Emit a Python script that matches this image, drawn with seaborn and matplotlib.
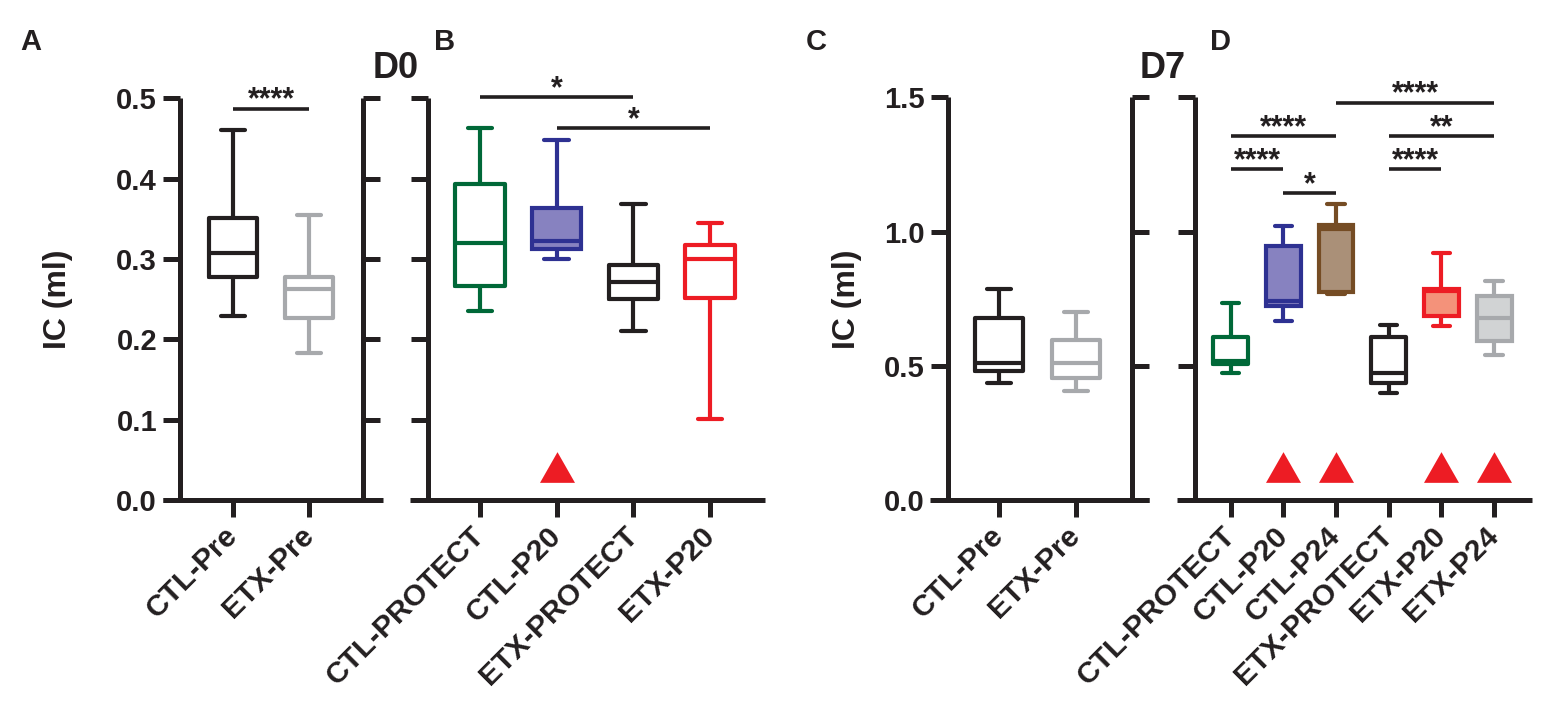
import numpy as np
import pandas as pd
import matplotlib
matplotlib.use("Agg")
import matplotlib.pyplot as plt
import seaborn as sns

# ---------------- data (five-number summaries) ----------------
a_groups = ["CTL-Pre", "ETX-Pre"]
a_lo  = [0.229, 0.183]
a_q1  = [0.278, 0.226]
a_med = [0.308, 0.263]
a_q3  = [0.351, 0.278]
a_hi  = [0.460, 0.355]

b_groups = ["CTL-PROTECT", "CTL-P20", "ETX-PROTECT", "ETX-P20"]
b_lo  = [0.235, 0.300, 0.210, 0.101]
b_q1  = [0.266, 0.313, 0.250, 0.251]
b_med = [0.320, 0.322, 0.271, 0.300]
b_q3  = [0.393, 0.364, 0.293, 0.318]
b_hi  = [0.463, 0.448, 0.369, 0.345]

c_groups = ["CTL-Pre", "ETX-Pre"]
c_lo  = [0.437, 0.407]
c_q1  = [0.482, 0.453]
c_med = [0.509, 0.512]
c_q3  = [0.677, 0.596]
c_hi  = [0.786, 0.702]

d_groups = ["CTL-PROTECT", "CTL-P20", "CTL-P24", "ETX-PROTECT", "ETX-P20", "ETX-P24"]
d_lo  = [0.472, 0.668, 0.767, 0.400, 0.648, 0.540]
d_q1  = [0.505, 0.723, 0.776, 0.437, 0.686, 0.594]
d_med = [0.519, 0.743, 1.010, 0.472, 0.780, 0.677]
d_q3  = [0.606, 0.946, 1.025, 0.606, 0.786, 0.760]
d_hi  = [0.733, 1.022, 1.103, 0.652, 0.921, 0.816]

# significance annotations: (group1, group2, height, label)
a_sig = [("CTL-Pre", "ETX-Pre", 0.487, "****")]
b_sig = [("CTL-PROTECT", "ETX-PROTECT", 0.501, "*"),
         ("CTL-P20", "ETX-P20", 0.463, "*")]
d_sig = [("CTL-P24", "ETX-P24", 1.480, "****"),
         ("CTL-PROTECT", "CTL-P24", 1.356, "****"),
         ("ETX-PROTECT", "ETX-P24", 1.356, "**"),
         ("CTL-PROTECT", "CTL-P20", 1.233, "****"),
         ("ETX-PROTECT", "ETX-P20", 1.233, "****"),
         ("CTL-P20", "CTL-P24", 1.143, "*")]

# groups marked with a red triangle
b_tri = ["CTL-P20"]
d_tri = ["CTL-P20", "CTL-P24", "ETX-P20", "ETX-P24"]

# ---------------- styles ----------------
INK = "#231F20"
GREEN = "#006838"
BLUE, BLUE_F = "#2E3192", "#8782C0"
BROWN, BROWN_F = "#754C24", "#AA9078"
RED, RED_F = "#ED1C24", "#F4927A"
GRAY, GRAY_F = "#A7A9AC", "#D1D3D4"

a_edge, a_face = [INK, GRAY], [None, None]
b_edge, b_face = [GREEN, BLUE, INK, RED], [None, BLUE_F, None, None]
c_edge, c_face = [INK, GRAY], [None, None]
d_edge, d_face = [GREEN, BLUE, BROWN, INK, RED, GRAY], [None, BLUE_F, BROWN_F, None, RED_F, GRAY_F]

sns.set_style("ticks")
plt.rcParams["font.family"] = ["Liberation Sans", "DejaVu Sans"]
plt.rcParams["font.weight"] = "bold"

W, H = 1562, 725
fig = plt.figure(figsize=(W / 100, H / 100), dpi=100)


def make_df(groups, lo, q1, med, q3, hi):
    rows = []
    for g, *vals in zip(groups, lo, q1, med, q3, hi):
        for v in vals:
            rows.append({"group": g, "value": v})
    return pd.DataFrame(rows)


def px_axes(x0, x1, ytop, ybot):
    return fig.add_axes([x0 / W, 1 - ybot / H, (x1 - x0) / W, (ybot - ytop) / H])


def panel(ax, df, groups, edge, face, width, ylim, yticks, xlim, lspine,
          rspine=None, ylabels=True, yfmt="{:.1f}"):
    for i, g in enumerate(groups):
        sub = df[df["group"] == g]
        if face[i] is None:
            sns.boxplot(data=sub, x="group", y="value", order=groups, color=edge[i],
                        fill=False, whis=(0, 100), width=width, linewidth=3,
                        showfliers=False, ax=ax)
        else:
            sns.boxplot(data=sub, x="group", y="value", order=groups, color=face[i],
                        linecolor=edge[i], fill=True, saturation=1, whis=(0, 100),
                        width=width, linewidth=3, showfliers=False, ax=ax)
    ax.set_xlim(*xlim)
    ax.set_ylim(*ylim)
    ax.set_yticks(yticks)
    ax.set_yticklabels([yfmt.format(t) for t in yticks])
    ax.set_xlabel("")
    ax.set_ylabel("")
    ax.patch.set_alpha(0)
    ax.spines["top"].set_visible(False)
    ax.spines["left"].set_position(("data", lspine))
    if rspine is not None:
        ax.spines["right"].set_position(("data", rspine))
        ax.tick_params(axis="y", right=True, labelright=False)
    else:
        ax.spines["right"].set_visible(False)
    for s in ax.spines.values():
        s.set_linewidth(3.6)
        s.set_color(INK)
        s.set_capstyle("butt")
    ax.tick_params(axis="both", width=3.6, length=12.5, color=INK, labelsize=21,
                   labelcolor=INK, pad=4, direction="out")
    ax.tick_params(axis="x", pad=10)
    if not ylabels:
        ax.tick_params(axis="y", labelleft=False)
    ax.set_xticks(range(len(groups)))
    ax.set_xticklabels(groups, rotation=45, ha="right", va="center",
                       rotation_mode="anchor", fontsize=21.5, fontweight="bold")
    for lab in ax.get_yticklabels():
        lab.set_fontweight("bold")


def sig(ax, groups, items):
    for g1, g2, y, txt in items:
        x1, x2 = groups.index(g1), groups.index(g2)
        ax.plot([x1, x2], [y, y], color=INK, lw=2.6, clip_on=False,
                solid_capstyle="butt")
        ax.text((x1 + x2) / 2, y, txt, ha="center", va="baseline",
                fontsize=22, fontweight="bold", color=INK, clip_on=False)


tri = [(-1, -0.877), (1, -0.877), (0, 0.877)]


def triangles(ax, groups, marked, y):
    xs = [groups.index(g) for g in marked]
    ax.plot(xs, [y] * len(xs), linestyle="none", marker=tri, markersize=25.2,
            color=RED, markeredgewidth=0, clip_on=False)


# Panel A
axA = px_axes(163, 383, 98.3, 500)
panel(axA, make_df(a_groups, a_lo, a_q1, a_med, a_q3, a_hi), a_groups, a_edge, a_face,
      0.64, (0, 0.5), [0, 0.1, 0.2, 0.3, 0.4, 0.5], (-0.921, 1.974), -0.697, rspine=1.711)
sig(axA, a_groups, a_sig)

# Panel B
axB = px_axes(410, 765, 98.3, 500)
panel(axB, make_df(b_groups, b_lo, b_q1, b_med, b_q3, b_hi), b_groups, b_edge, b_face,
      0.64, (0, 0.5), [0, 0.1, 0.2, 0.3, 0.4, 0.5], (-0.913, 3.717), -0.678, ylabels=False)
sig(axB, b_groups, b_sig)
triangles(axB, b_groups, b_tri, 0.0413)

# Panel C
axC = px_axes(930, 1149, 97.3, 500)
panel(axC, make_df(c_groups, c_lo, c_q1, c_med, c_q3, c_hi), c_groups, c_edge, c_face,
      0.63, (0, 1.5), [0, 0.5, 1.0, 1.5], (-0.904, 1.953), -0.669, rspine=1.726)

# Panel D
axD = px_axes(1176.7, 1531.7, 97.3, 500)
panel(axD, make_df(d_groups, d_lo, d_q1, d_med, d_q3, d_hi), d_groups, d_edge, d_face,
      0.66, (0, 1.5), [0, 0.5, 1.0, 1.5], (-1.025, 5.712), -0.677, ylabels=False)
sig(axD, d_groups, d_sig)
triangles(axD, d_groups, d_tri, 0.1237)

# Axis titles and panel letters
for x in (58, 847):
    fig.text(x / W, 1 - 299 / H, "IC (ml)", rotation=90, ha="center", va="center",
             fontsize=23, fontweight="bold", color=INK)
for x, y, t in [(20, 42, "A"), (434, 42, "B"), (806, 42, "C"), (1210, 42, "D")]:
    fig.text(x / W, 1 - y / H, t, ha="left", va="center", fontsize=21,
             fontweight="bold", color=INK)
for x, t in [(396, "D0"), (1163, "D7")]:
    fig.text(x / W, 1 - 68 / H, t, ha="center", va="center", fontsize=26,
             fontweight="bold", color=INK)

fig.savefig("out.png", dpi=100)
